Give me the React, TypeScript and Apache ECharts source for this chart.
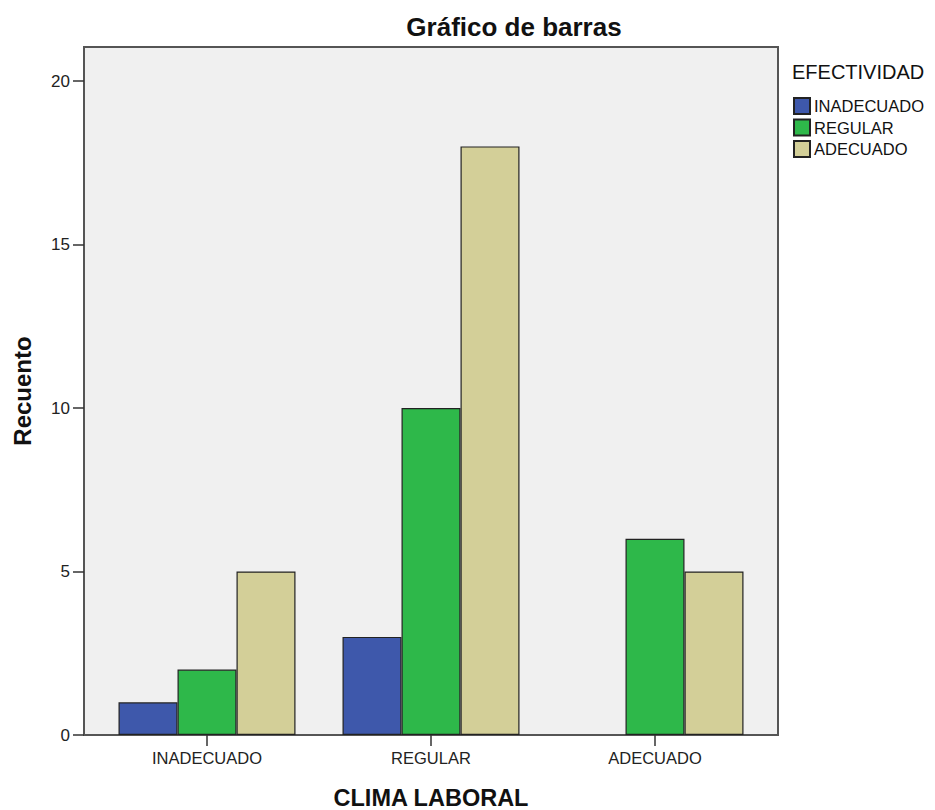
import React, { useEffect, useRef } from "react";
import * as echarts from "echarts";

const categories = ["INADECUADO", "REGULAR", "ADECUADO"];
const seriesNames = ["INADECUADO", "REGULAR", "ADECUADO"];
const inadecuadoValues = [1, 3, null];
const regularValues = [2, 10, 6];
const adecuadoValues = [5, 18, 5];
const yTickValues = [0, 5, 10, 15, 20];
const seriesColors = ["#3E58AB", "#2EB84A", "#D3CF98"];

const FONT = "'Liberation Sans', Arial, sans-serif";

export default function App() {
  const ref = useRef<HTMLDivElement>(null);
  useEffect(() => {
    if (!ref.current) return;
    const chart = echarts.init(ref.current, undefined, { renderer: "svg" });
    const values = [inadecuadoValues, regularValues, adecuadoValues];
    chart.setOption({
      animation: false,
      backgroundColor: "#ffffff",
      textStyle: { fontFamily: FONT },
      grid: { left: 95, right: 168, top: 47, bottom: 75, containLabel: false, outerBoundsMode: "none" },
      graphic: [
        {
          type: "rect",
          z: -10,
          shape: { x: 84, y: 47, width: 694, height: 688 },
          style: { fill: "#F0F0F0", stroke: "#555555", lineWidth: 2 },
          silent: true,
        },
        {
          type: "text",
          x: 514,
          y: 27,
          style: {
            text: "Gráfico de barras",
            font: `bold 26px ${FONT}`,
            fill: "#111111",
            textAlign: "center",
            textVerticalAlign: "middle",
          },
        },
        {
          type: "text",
          x: 792,
          y: 72,
          style: {
            text: "EFECTIVIDAD",
            font: `20px ${FONT}`,
            fill: "#111111",
            textAlign: "left",
            textVerticalAlign: "middle",
          },
        },
      ],
      legend: {
        orient: "vertical",
        left: 793,
        top: 97,
        padding: 0,
        itemWidth: 16,
        itemHeight: 16,
        itemGap: 3.5,
        icon: "rect",
        data: seriesNames,
        textStyle: { fontFamily: FONT, fontSize: 16.5, color: "#111111", padding: [0, 0, 0, -1] },
      },
      xAxis: {
        type: "category",
        data: categories,
        name: "CLIMA LABORAL",
        nameLocation: "middle",
        nameGap: 51,
        nameTextStyle: { fontFamily: FONT, fontSize: 23.5, fontWeight: "bold", color: "#111111" },
        axisLine: { show: false },
        axisTick: { show: true, alignWithLabel: true, length: 11, lineStyle: { color: "#333333", width: 1.5 } },
        axisLabel: { margin: 14, fontFamily: FONT, fontSize: 16.5, color: "#222222" },
        splitLine: { show: false },
      },
      yAxis: {
        type: "value",
        min: 0,
        max: 21.04,
        interval: 5,
        offset: 11,
        name: "Recuento",
        nameLocation: "middle",
        nameGap: 50,
        nameTextStyle: { fontFamily: FONT, fontSize: 24, fontWeight: "bold", color: "#111111" },
        axisLine: { show: false },
        axisTick: { show: true, length: 11, customValues: yTickValues, lineStyle: { color: "#333333", width: 1.5 } },
        axisLabel: { margin: 14, fontFamily: FONT, fontSize: 17, color: "#222222", customValues: yTickValues },
        splitLine: { show: false },
      },
      series: seriesNames.map((name, i) => ({
        name,
        type: "bar",
        data: values[i],
        barWidth: 59,
        barGap: "0%",
        itemStyle: { color: seriesColors[i], borderColor: "#222222", borderWidth: 1.2 },
      })),
    });
    return () => chart.dispose();
  }, []);
  return (
    <div
      ref={ref}
      style={{ position: "fixed", left: 0, top: 0, width: 935, height: 810 }}
    />
  );
}
